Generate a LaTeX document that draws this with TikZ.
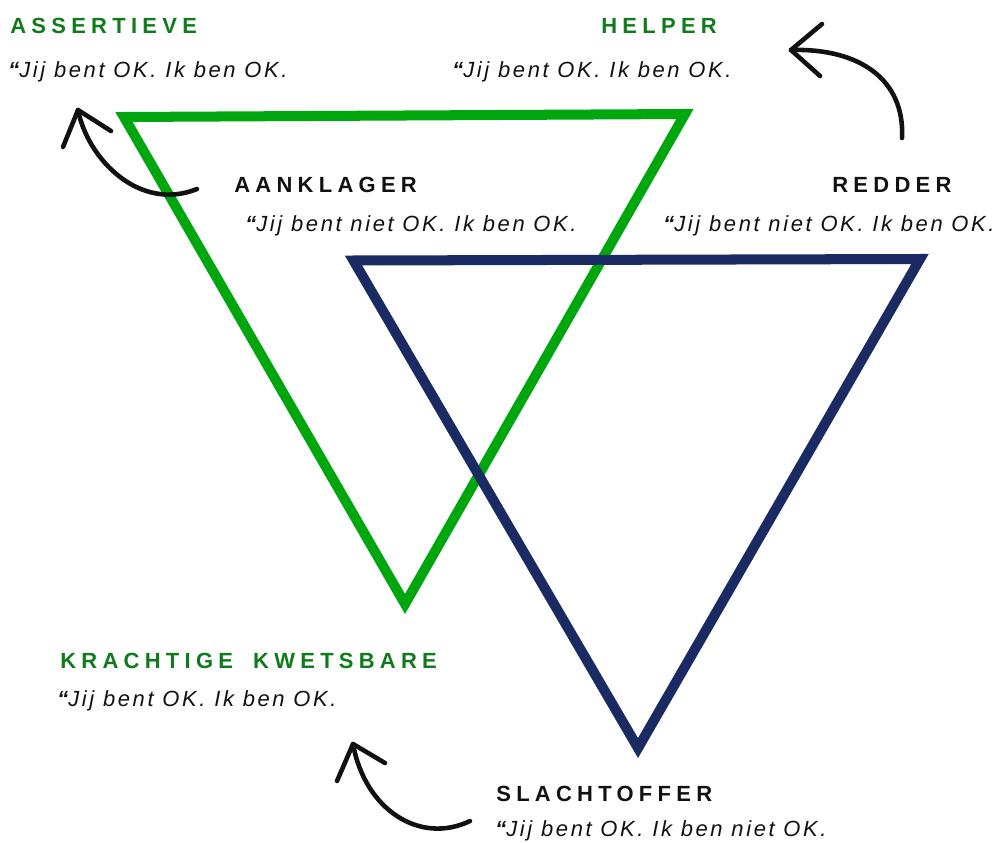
\documentclass[tikz,border=0pt]{standalone}
\usepackage{fontspec}
\setmainfont{Liberation Sans}
\newfontfamily\headfont[LetterSpace=24]{Liberation Sans}
\newfontfamily\quotefont[LetterSpace=12]{Liberation Sans}
\usetikzlibrary{positioning}
\definecolor{okgreen}{RGB}{0,166,14}
\definecolor{labelgreen}{RGB}{16,122,28}
\definecolor{dramanavy}{RGB}{26,42,98}
\definecolor{inkblack}{RGB}{17,17,17}

\begin{document}
\begin{tikzpicture}[x=0.02cm,y=-0.02cm,inner sep=0pt]
\tikzstyle{tri}=[line width=5.7pt, line join=miter]
\tikzstyle{role}=[anchor=base west, font=\headfont\bfseries\fontsize{12.5}{15}\selectfont]
\tikzstyle{saying}=[anchor=base west, text=inkblack, font=\quotefont\itshape\fontsize{12.5}{15}\selectfont]
\tikzstyle{swing}=[line width=2.6pt, line cap=round, line join=round, draw=inkblack]
\useasboundingbox (0,0) rectangle (993,842);
% triangles
\draw[tri,draw=okgreen] (124,117) -- (685,114) -- (405,604) -- cycle;
\draw[tri,draw=dramanavy] (353.5,260.5) -- (920,259) -- (638,748) -- cycle;
% roles and sayings
\node[role,text=labelgreen] (assertieve) at (10,33) {ASSERTIEVE};
\node[saying] (assertieveq) at (8,77) {{\bfseries “}Jij bent OK. Ik ben OK.};
\node[role,text=labelgreen] (helper) at (601,33) {HELPER};
\node[saying] (helperq) at (452,77) {{\bfseries “}Jij bent OK. Ik ben OK.};
\node[role,text=inkblack] (aanklager) at (234,192) {AANKLAGER};
\node[saying] (aanklagerq) at (245,231) {{\bfseries “}Jij bent niet OK. Ik ben OK.};
\node[role,text=inkblack] (redder) at (832,192) {REDDER};
\node[saying] (redderq) at (663,231) {{\bfseries “}Jij bent niet OK. Ik ben OK.};
\node[role,text=labelgreen] (kwetsbare) at (60,668) {KRACHTIGE\hspace{5pt} KWETSBARE};
\node[saying] (kwetsbareq) at (57,706) {{\bfseries “}Jij bent OK. Ik ben OK.};
\node[role,text=inkblack] (slachtoffer) at (496,801) {SLACHTOFFER};
\node[saying] (slachtofferq) at (495,836) {{\bfseries “}Jij bent OK. Ik ben niet OK.};
% arrows
\coordinate (tailA) at (197,189);
\coordinate (tipA) at (78,110);
\coordinate (tailB) at (902,138);
\coordinate (tipB) at (791,50);
\coordinate (tailC) at (470,821);
\coordinate (tipC) at (353,744);
\draw[swing] (tailA) .. controls (140,212) and (88,160) .. (tipA);
\draw[swing] (63,147) -- (tipA) -- (111,131);
\draw[swing] (tailB) .. controls (905,80) and (860,48) .. (tipB);
\draw[swing] (822,24) -- (tipB) -- (820,76);
\draw[swing] (tailC) .. controls (420,845) and (365,810) .. (tipC);
\draw[swing] (337,781) -- (tipC) -- (385,763);
\end{tikzpicture}
\end{document}
